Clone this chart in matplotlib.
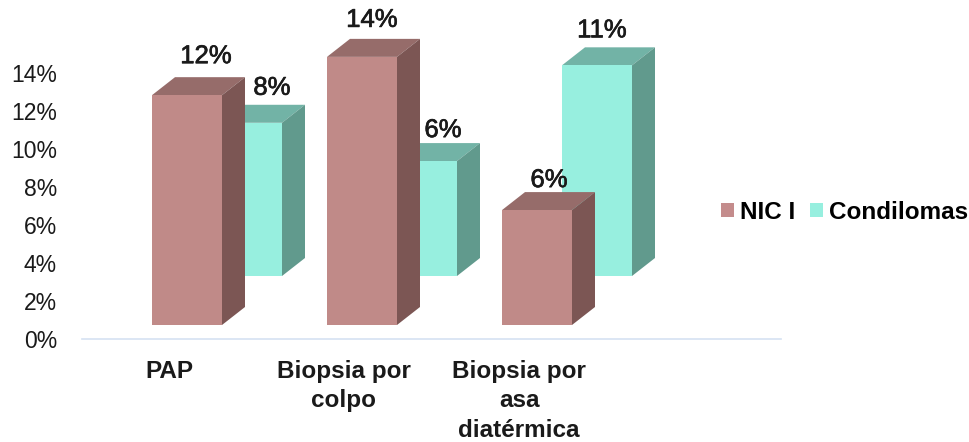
# -*-coding:utf8-*-

import matplotlib
matplotlib.use('Agg')
from matplotlib import patheffects
from matplotlib import pyplot as plt
from matplotlib.patches import Patch, Polygon, Rectangle

categories = ['PAP', 'Biopsia por\ncolpo', 'Biopsia por\nasa\ndiatérmica']
nic = [12, 14, 6]
condilomas = [8, 6, 11]
y_ticks = [0, 2, 4, 6, 8, 10, 12, 14]

# label offsets from the front top-left corner of each bar, in px
nic_lab = [(54, 39), (45, 37), (47, 30)]
cond_lab = [(60, 35), (56, 31), (40, 35)]

W, H = 970, 442
plt.rcParams['font.family'] = ['Liberation Sans', 'DejaVu Sans']

fig = plt.figure(figsize=(W / 100, H / 100), dpi=100)
# axis line runs 82..781 px, 0% at y=339 px, 19 px per 1%
ax = fig.add_axes([82 / W, (H - 339) / H, (781 - 82) / W, 339 / H])
ax.set_xlim((82 - 169) / 175, (781 - 169) / 175)
ax.set_ylim(0, 339 / 19)

bar_w = 70 / 175
depth_x = 23 / 175
depth_y = 18 / 19
stretch = 1.008
stroke = [patheffects.withStroke(linewidth=0.5, foreground='#1a1a1a')]


def bar3d(x, base, val, front, top, side, lab):
    x1 = x + bar_w
    y1 = base + val * stretch
    ax.add_patch(Polygon([(x, y1), (x + depth_x, y1 + depth_y), (x1 + depth_x, y1 + depth_y), (x1, y1)],
                         fc=top, ec='none', clip_on=False))
    ax.add_patch(Polygon([(x1, base), (x1 + depth_x, base + depth_y), (x1 + depth_x, y1 + depth_y), (x1, y1)],
                         fc=side, ec='none', clip_on=False))
    ax.add_patch(Rectangle((x, base), bar_w, y1 - base, fc=front, ec='none', clip_on=False))
    ax.annotate('%d%%' % val, (x, y1), xytext=lab, textcoords='offset pixels',
                ha='center', va='center', fontsize=18.5, color='#1a1a1a', zorder=5,
                annotation_clip=False, path_effects=stroke)


# back row first, the NIC bars sit in front of it
for i, v in enumerate(condilomas):
    bar3d(i - 17 / 175 + 60 / 175, 63 / 19, v, '#97EFDF', '#72B3A6', '#619A8D', cond_lab[i])
for i, v in enumerate(nic):
    bar3d(i - 17 / 175, 14 / 19, v, '#C08A88', '#966C6A', '#7C5654', nic_lab[i])

ax.set_xticks(range(len(categories)))
ax.set_xticklabels(categories, fontsize=17.5, fontweight='bold', color='#1a1a1a', linespacing=1.37)
ax.set_yticks(y_ticks)
ax.set_yticklabels(['%d%%' % t for t in y_ticks], fontsize=16.5, color='#1a1a1a')
ax.tick_params(axis='x', length=0, pad=15)
ax.tick_params(axis='y', length=0, pad=18)

for s in ['top', 'right', 'left']:
    ax.spines[s].set_visible(False)
ax.spines['bottom'].set_color('#D5E2F2')
ax.spines['bottom'].set_linewidth(1.2)

handles = [Patch(fc='#C48C8C', label='NIC I'), Patch(fc='#97EFDF', label='Condilomas')]
fig.legend(handles=handles, loc='center left', bbox_to_anchor=(721 / W, 1 - 212 / H), ncol=2, frameon=False,
           handlelength=0.53, handleheight=0.53, handletextpad=0.25, columnspacing=0.6,
           borderpad=0, borderaxespad=0, prop={'size': 17.5, 'weight': 'bold'})

fig.savefig('out.png', dpi=100)
